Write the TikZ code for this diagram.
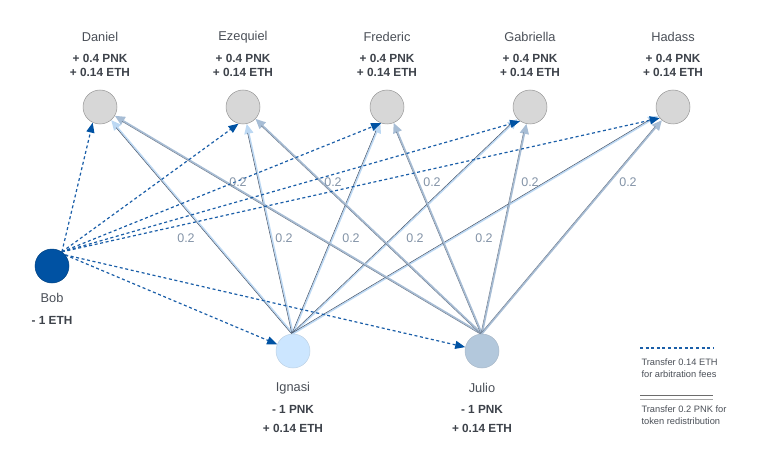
\documentclass[tikz,border=0pt]{standalone}
\usepackage{fontspec}
\setmainfont{Liberation Sans}
\usetikzlibrary{arrows.meta,backgrounds,calc}
\definecolor{txt}{HTML}{4A4F57}
\definecolor{amt}{HTML}{3D424A}
\definecolor{lbl}{HTML}{8393A7}
\definecolor{bobc}{HTML}{0052A3}
\definecolor{ethc}{HTML}{1A5EA8}
\definecolor{ignc}{HTML}{CCE6FF}
\definecolor{julc}{HTML}{B3C8DC}
\definecolor{topc}{HTML}{D7D7D7}
\definecolor{darkIc}{HTML}{45546A}
\definecolor{darkJc}{HTML}{6B7A8E}
\definecolor{lightI}{HTML}{BCD8F3}
\definecolor{lightJ}{HTML}{A7BDD5}
\begin{document}
\begin{tikzpicture}[x=1pt,y=-1pt,
  person/.style={circle,minimum size=34pt,inner sep=0pt,draw=#1!70!black,line width=0.5pt,fill=#1},
  nametext/.style={font=\fontsize{12.8}{15}\selectfont,text=txt},
  amttext/.style={font=\fontsize{11.8}{14.8}\selectfont\bfseries,text=amt,align=center},
  wlabel/.style={font=\fontsize{12.5}{14}\selectfont,text=lbl},
  legtext/.style={font=\fontsize{9.3}{12.5}\selectfont,text=txt,align=left,anchor=west},
  ethline/.style={ethc,line width=1.2pt,dash pattern=on 3pt off 2.6pt,-{Triangle[length=10pt,width=8pt,color=bobc,fill=bobc]}},
  darkI/.style={darkIc,line width=0.5pt,shorten >=9pt},
  lightIline/.style={lightI,line width=1.6pt,-{Triangle[length=10pt,width=9pt]}},
  darkJ/.style={darkJc,line width=0.5pt,shorten >=9pt},
  lightJline/.style={lightJ,line width=1.6pt,-{Triangle[length=10pt,width=9pt]}},
]
\useasboundingbox (0,0) rectangle (783,465);

% top persons
\foreach \n/\nm/\x in {D/Daniel/100,E/Ezequiel/243,F/Frederic/387,G/Gabriella/530,H/Hadass/673}{
  \node[person=topc] (\n) at (\x,107) {};
  \node[nametext] (\n name) at (\x,37) {\nm};
  \node[amttext] (\n amt) at (\x,65.5) {+ 0.4 PNK\\+ 0.14 ETH};
}
\node[person=bobc,draw=bobc!80!black] (B) at (52,266) {};
\node[nametext] (Bname) at (52,298) {Bob};
\node[amttext] (Bamt) at (52,320) {- 1 ETH};

\node[person=ignc,draw=ignc!80!gray] (I) at (293,351) {};
\node[nametext] (Iname) at (293,388) {Ignasi};
\node[amttext] (Iamt1) at (293,409) {- 1 PNK};
\node[amttext] (Iamt2) at (293,428) {+ 0.14 ETH};

\node[person=julc,draw=julc!80!gray] (J) at (482,351) {};
\node[nametext] (Jname) at (482,388) {Julio};
\node[amttext] (Jamt1) at (482,409) {- 1 PNK};
\node[amttext] (Jamt2) at (482,428) {+ 0.14 ETH};

\begin{scope}[on background layer]
  % PNK redistribution lines (double strokes: light with arrow, thin dark beside)
  \foreach \t in {D,E,F,G,H}{
    \draw[lightIline] (I.north) -- (\t) coordinate[pos=1] (eI\t);
    \draw[darkI] ($(I.north)!1.1pt!90:(eI\t)$) -- ($(eI\t)!1.1pt!-90:(I.north)$);
  }
  \foreach \t in {D,E,F,G,H}{
    \draw[lightJline] (J.north) -- (\t) coordinate[pos=1] (eJ\t);
    \draw[darkJ] ($(J.north)!1.1pt!90:(eJ\t)$) -- ($(eJ\t)!1.1pt!-90:(J.north)$);
  }
  % ETH lines
  \draw[ethline] (B.55) -- (D.245);
  \draw[ethline] (B.55) -- (E.255);
  \draw[ethline] (B.55) -- (F.250);
  \draw[ethline] (B.55) -- (G.235);
  \draw[ethline] (B.55) -- (H.220);
  \draw[ethline] (B.40) -- (I);
  \draw[ethline] (B.40) -- (J);
\end{scope}

% weight labels
\foreach \x in {238,333,432,530,628}{ \node[wlabel] at (\x,182) {0.2}; }
\foreach \x in {186,284,351,415,484}{ \node[wlabel] at (\x,238) {0.2}; }

% legend
\coordinate (l1a) at (640,348); \coordinate (l1b) at (713,348);
\draw[ethc,line width=1.2pt,dash pattern=on 3pt off 2.6pt] (l1a) -- (l1b);
\node[legtext] (lt1) at (638,368) {Transfer 0.14 ETH\\for arbitration fees};
\coordinate (l2a) at (640,395.5); \coordinate (l2b) at (713,395.5);
\coordinate (l3a) at (640,399); \coordinate (l3b) at (713,399);
\draw[gray!85!black,line width=0.8pt] (l2a) -- (l2b);
\draw[gray!70!white,line width=0.8pt] (l3a) -- (l3b);
\node[legtext] (lt2) at (638,415) {Transfer 0.2 PNK for\\token redistribution};
\end{tikzpicture}
\end{document}
